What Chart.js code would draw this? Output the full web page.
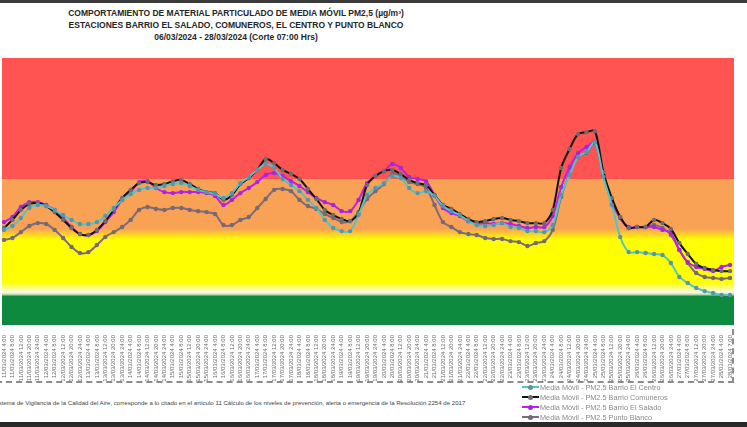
<!DOCTYPE html>
<html>
<head>
<meta charset="utf-8">
<style>
  body { margin:0; width:747px; height:427px; position:relative; overflow:hidden; background:#fff; font-family:"Liberation Sans", Arial, sans-serif; }
  #topbar { position:absolute; left:0; top:0; width:747px; height:3px; background:#3a3a3a; }
  #botbar { position:absolute; left:0; top:422px; width:747px; height:5px; background:#2a2a2a; }
  #title { position:absolute; left:0; width:472px; top:7px; text-align:center; font-weight:bold; font-size:8.5px; line-height:12px; color:#262626; }
  #frame { position:absolute; left:-4px; top:300px; width:736px; height:81px; border-right:2px dashed #8c8c8c; border-bottom:2px dashed #8c8c8c; }
  #wrap { position:absolute; left:0; top:0; }
  #note { position:absolute; left:-7px; top:399px; font-size:6.1px; color:#444; white-space:nowrap; }
  #legend { position:absolute; left:522px; top:382px; font-size:7.3px; color:#8a8a8a; }
  .item { height:10px; display:flex; align-items:center; }
  .sw { position:relative; width:17px; height:2px; margin-right:1px; }
  .sw i { position:absolute; left:6px; top:-1.5px; width:5px; height:5px; border-radius:50%; }
</style>
</head>
<body>
<div id="topbar"></div>
<div id="title">
  COMPORTAMIENTO DE MATERIAL PARTICULADO DE MEDIA MÓVIL PM2,5 (µg/m³)<br>
  ESTACIONES BARRIO EL SALADO, COMUNEROS, EL CENTRO Y PUNTO BLANCO<br>
  06/03/2024 - 28/03/2024 (Corte 07:00 Hrs)
</div>
<div id="frame"></div>
<div id="wrap"><canvas id="chart" width="747" height="385"></canvas></div>
<div id="note">Sistema de Vigilancia de la Calidad del Aire, corresponde a lo citado en el artículo 11 Cálculo de los niveles de prevención, alerta o emergencia de la Resolución 2254 de 2017</div>
<div id="legend"></div>
<div id="botbar"></div>

<script src="https://cdn.jsdelivr.net/npm/chart.js"></script>
<script>
    const days = ['11','12','13','14','15','16','17','18','19','20','21','22','23','24','25','26','27']
    const hours = ['4:00','8:00','12:00','20:00','24:00']
    const lastLabels = ['28/03/2024 4:00','28/03/2024 7:00']

    const centro = [39.0,40.6,43.9,48.0,49.2,48.8,47.2,45.1,43.1,41.4,41.4,42.2,44.7,48.0,51.3,53.7,55.4,56.2,56.2,57.0,
        57.8,58.2,57.0,55.4,54.5,53.7,52.1,54.1,58.2,60.7,63.6,66.0,64.4,59.9,57.4,54.9,51.3,48.0,43.1,39.8,
        38.5,38.5,45.1,53.3,56.2,58.2,61.1,60.3,56.2,54.1,54.9,52.9,48.8,46.7,45.1,42.6,41.0,40.6,41.0,41.8,
        40.2,39.8,38.5,38.5,38.1,41.0,53.3,61.5,68.9,70.9,75.0,60.7,49.2,36.1,29.9,29.9,29.5,29.1,28.7,25.4,
        19.7,17.2,15.2,13.9,13.1,12.3,12.3]
    const comuneros = [39.8,43.1,47.2,49.6,50.0,48.8,46.3,43.1,39.8,37.3,36.9,39.0,42.6,47.2,52.1,55.4,58.2,58.6,57.4,57.8,
        59.0,59.5,57.8,55.8,54.5,54.1,51.3,53.3,57.8,60.3,63.6,68.1,66.4,63.6,61.9,59.9,55.8,51.7,47.2,45.1,
        43.5,42.6,45.9,57.4,61.1,63.1,63.6,61.9,59.5,58.2,57.4,53.3,49.2,47.6,45.5,43.5,42.2,42.6,43.5,43.9,
        43.1,42.6,41.8,41.8,41.8,47.2,64.4,72.2,78.3,79.1,79.5,62.7,52.1,44.3,39.8,40.2,40.2,43.1,41.8,39.4,
        33.6,29.1,25.0,23.4,22.6,22.1,22.1]
    const salado = [42.2,44.3,48.4,50.4,50.4,49.2,47.2,43.9,40.2,37.3,36.9,38.5,42.2,46.3,51.3,54.5,58.6,59.0,56.2,54.5,
        54.1,54.5,54.5,54.5,54.1,52.9,49.2,51.3,54.1,56.2,58.6,61.5,62.3,61.1,59.0,57.0,54.5,52.1,50.4,49.2,
        46.7,46.7,51.3,58.2,61.1,63.1,66.0,64.4,60.7,59.9,59.0,53.3,48.0,45.9,44.7,42.6,41.4,41.8,41.4,41.8,
        41.4,40.6,39.8,40.2,40.2,44.7,56.6,64.8,70.5,73.0,75.0,61.5,51.3,43.9,40.2,40.2,40.2,40.2,39.0,37.7,
        30.8,25.8,23.8,23.0,22.1,23.8,24.6]
    const puntoBlanco = [34.9,35.7,38.1,40.6,41.8,41.4,39.0,35.7,32.0,29.5,29.9,32.8,36.1,38.1,40.2,43.1,47.2,48.4,47.6,47.2,
        48.0,48.0,47.2,46.7,46.3,45.5,41.0,41.0,43.1,44.3,48.0,51.7,55.4,55.8,54.9,51.3,48.8,47.6,45.5,43.9,
        42.2,42.6,46.3,51.7,54.9,57.8,61.9,61.1,58.6,57.8,56.2,49.2,42.2,40.2,38.1,37.3,36.9,35.7,35.3,35.3,
        34.4,34.0,32.4,33.6,34.4,39.0,52.5,62.3,68.9,70.5,74.6,61.5,50.0,43.9,39.8,40.2,40.2,41.0,39.8,36.9,
        30.8,25.4,21.3,19.7,19.3,18.9,19.3]

    // nivel limits (same units as the series)
    const bandGreen = 12
    const bandYellow = 37
    const bandOrange = 60
    const yMax = 109.5

    const labels = []
    for (let d of days) for (let h of hours) labels.push(`${d}/03/2024 ${h}`)
    labels.push(...lastLabels)

    const series = [
        {label:'Media Móvil - PM2.5 Barrio El Centro', data:centro, line:'#4cc8cb', dot:'#5d93a3'},
        {label:'Media Móvil - PM2.5 Barrio Comuneros', data:comuneros, line:'#111111', dot:'#6d6d6d'},
        {label:'Media Móvil - PM2.5 Barrio El Salado', data:salado, line:'#c21cf0', dot:'#a228d8'},
        {label:'Media Móvil - PM2.5 Punto Blanco', data:puntoBlanco, line:'#7d6a7d', dot:'#746a74'},
    ]

    const bands = {
        id: 'bands',
        beforeDatasetsDraw(chart) {
            const {ctx, chartArea, scales} = chart
            const y = scales.y
            const top = chartArea.top, bottom = chartArea.bottom
            const at = v => (y.getPixelForValue(v) - top) / (bottom - top)
            const g = ctx.createLinearGradient(0, top, 0, bottom)
            g.addColorStop(0, '#ff5451')
            g.addColorStop(at(bandOrange), '#ff5451')
            g.addColorStop(at(bandOrange) + 0.003, '#f9a155')
            g.addColorStop(at(bandYellow + 2.5), '#f9a155')
            g.addColorStop(at(bandYellow - 2), '#ffff00')
            g.addColorStop(at(bandGreen + 5.5), '#ffff00')
            g.addColorStop(at(bandGreen + 2.5), '#ffffa8')
            g.addColorStop(at(bandGreen + 1.2), '#f4f8e4')
            g.addColorStop(at(bandGreen + 0.4), '#a8d4a8')
            g.addColorStop(at(bandGreen - 0.2), '#0d8a3d')
            g.addColorStop(1, '#0d8a3d')
            ctx.save()
            ctx.fillStyle = g
            ctx.fillRect(chartArea.left - 2, top, chartArea.right - chartArea.left + 6, bottom - top)
            ctx.restore()
        }
    }

    new Chart(document.getElementById('chart'), {
        type: 'line',
        data: {
            labels,
            datasets: series.map(s => ({
                label: s.label,
                data: s.data,
                borderColor: s.line,
                borderWidth: 2,
                pointRadius: 2.2,
                pointBackgroundColor: s.dot,
                pointBorderColor: s.dot,
                pointBorderWidth: 0,
                tension: 0.3
            }))
        },
        plugins: [bands],
        options: {
            responsive: false,
            animation: false,
            layout: {padding: {left: 2, right: 17, top: 58, bottom: 0}},
            plugins: {legend: {display: false}, tooltip: {enabled: false}},
            scales: {
                x: {
                    grid: {display: false},
                    border: {display: false},
                    ticks: {autoSkip: false, maxRotation: 90, minRotation: 90, padding: 2,
                        color: '#6a6a6a', font: {size: 6, family: 'Liberation Sans'}},
                    afterFit(scale) { scale.height = 60 }
                },
                y: {display: false, min: 0, max: yMax}
            }
        }
    });

    const legend = document.getElementById('legend')
    for (let s of series) {
        legend.insertAdjacentHTML('beforeend',
            `<div class="item"><span class="sw" style="background:${s.line}"><i style="background:${s.dot}"></i></span>${s.label}</div>`)
    }
</script>
</body>
</html>
